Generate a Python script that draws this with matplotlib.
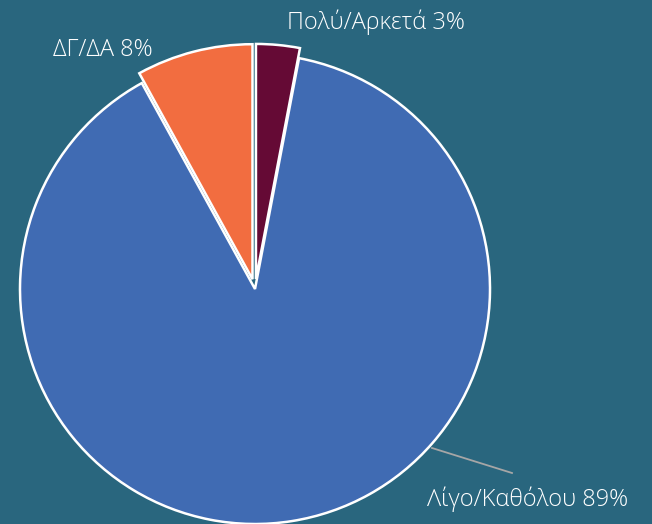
import matplotlib.pyplot as plt
import numpy as np

# data
labels = ['Πολύ/Αρκετά', 'Λίγο/Καθόλου', 'ΔΓ/ΔΑ']
values = [3, 89, 8]
colors = ['#650a35', '#406bb3', '#f26d40']
explode_frac = [0.043, 0, 0.043]

W, H = 652, 524
bg = '#29667e'

fig = plt.figure(figsize=(W/100, H/100), dpi=100, facecolor=bg)
ax = fig.add_axes([0, 0, 1, 1])
ax.set_facecolor(bg)
ax.axis('off')

cx, cy, r = 255, H - 289, 235
# pie explode is in data units here, so scale by radius
wedges, _ = ax.pie(values, colors=colors, explode=[e * r for e in explode_frac],
                   startangle=90, counterclock=False, center=(cx, cy), radius=r,
                   wedgeprops=dict(edgecolor='white', linewidth=1.8))
ax.set_aspect('equal')
ax.set_xlim(0, W)
ax.set_ylim(0, H)

txt = dict(color='white', fontsize=17, family=['Open Sans', 'DejaVu Sans'], fontweight='light')
ax.text(376, H - 22, f'{labels[0]} {values[0]}%', ha='center', va='center', **txt)
ax.text(103, H - 50, f'{labels[2]} {values[2]}%', ha='center', va='center', **txt)
ax.text(528, H - 499, f'{labels[1]} {values[1]}%', ha='center', va='center', **txt)
ax.plot([432, 512], [H - 448, H - 473], color='#a6a6a6', lw=1.3)

fig.savefig('out.png', dpi=100, facecolor=bg)
